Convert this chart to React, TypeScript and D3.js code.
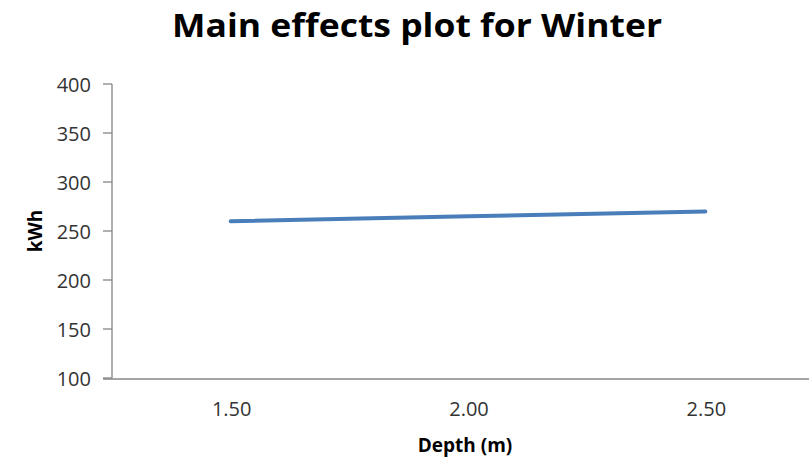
import React from "react";
import * as d3 from "d3";

const categories = ["1.50", "2.00", "2.50"];
const values = [260, 265, 270];
const yTicks = [100, 150, 200, 250, 300, 350, 400];
const title = "Main effects plot for Winter";
const xTitle = "Depth (m)";
const yTitle = "kWh";

export default function App() {
  const W = 809, H = 457;
  const left = 112, right = 824, top = 84, bottom = 378;
  const x = d3.scaleBand<string>().domain(categories).range([left, right]);
  const y = d3.scaleLinear().domain([100, 400]).range([bottom, top]);
  const line = d3
    .line<number>()
    .x((_, i) => (x(categories[i]) as number) + x.bandwidth() / 2)
    .y((d) => y(d));
  const font = "'Open Sans', sans-serif";
  const axisColor = "#868686";
  return (
    <svg
      width={W}
      height={H}
      style={{ position: "absolute", left: 0, top: 0, background: "#fff" }}
      fontFamily={font}
    >
      <text
        x={172}
        y={37}
        fontSize={33}
        fontWeight="bold"
        fill="#000"
        textLength={490}
        lengthAdjust="spacingAndGlyphs"
      >
        {title}
      </text>
      <line x1={left} x2={left} y1={top} y2={bottom} stroke={axisColor} strokeWidth={1.3} />
      {yTicks.map((t) => (
        <g key={t}>
          <line x1={left - 9} x2={left} y1={y(t)} y2={y(t)} stroke={axisColor} strokeWidth={1.3} />
          <text x={91} y={y(t) + 7.5} textAnchor="end" fontSize={20} fill="#333">
            {t}
          </text>
        </g>
      ))}
      <line x1={left - 9} x2={W} y1={bottom + 1} y2={bottom + 1} stroke={axisColor} strokeWidth={1.5} />
      {categories.map((c) => (
        <text
          key={c}
          x={(x(c) as number) + x.bandwidth() / 2 + 1}
          y={416}
          textAnchor="middle"
          fontSize={20}
          fill="#333"
        >
          {c}
        </text>
      ))}
      <text x={465} y={452} textAnchor="middle" fontSize={19} fontWeight="bold" fill="#000">
        {xTitle}
      </text>
      <text
        transform={`translate(42,${(top + bottom) / 2}) rotate(-90)`}
        textAnchor="middle"
        fontSize={19}
        fontWeight="bold"
        fill="#000"
      >
        {yTitle}
      </text>
      <path
        d={line(values) || ""}
        fill="none"
        stroke="#4a7ebb"
        strokeWidth={4}
        strokeLinecap="round"
      />
    </svg>
  );
}
